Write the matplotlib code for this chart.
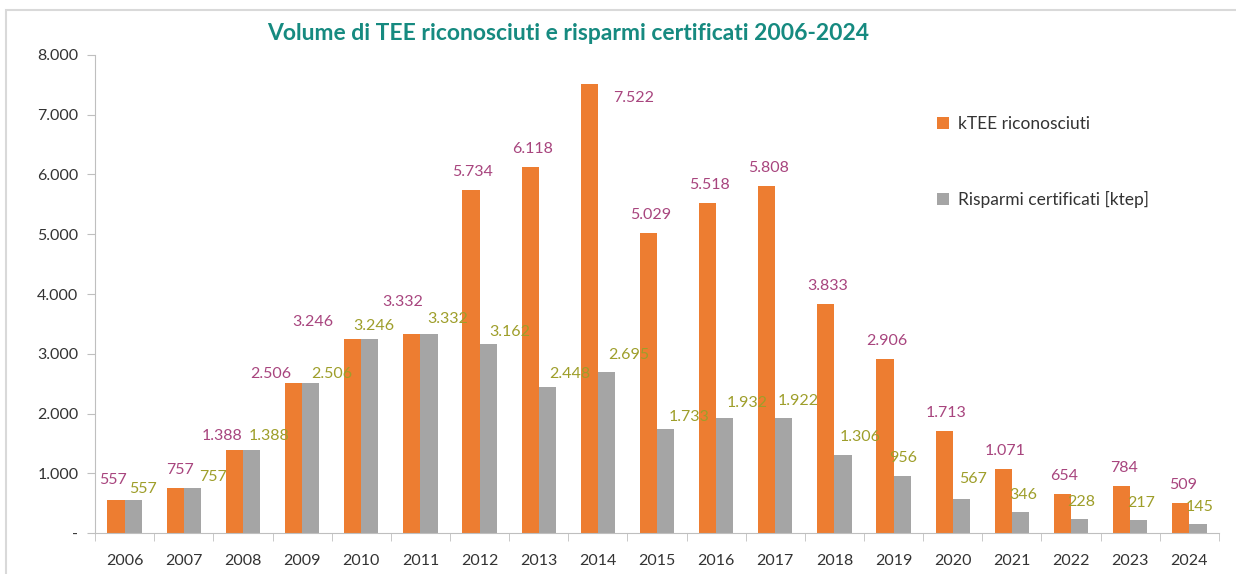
import matplotlib.pyplot as plt
import numpy as np
from matplotlib.patches import Rectangle

anni = [str(a) for a in range(2006, 2025)]
ktee = [557, 757, 1388, 2506, 3246, 3332, 5734, 6118, 7522, 5029, 5518, 5808,
        3833, 2906, 1713, 1071, 654, 784, 509]
risparmi = [557, 757, 1388, 2506, 3246, 3332, 3162, 2448, 2695, 1733, 1932, 1922,
            1306, 956, 567, 346, 228, 217, 145]

def fmt_it(v):
    return f"{v:,}".replace(",", ".")

plt.rcParams['font.family'] = ['Lato', 'DejaVu Sans']
fig = plt.figure(figsize=(12.36, 5.74), dpi=100)
ax = fig.add_axes([0.0769, 0.0714, 0.9093, 0.8328])

x = np.arange(len(anni))
w = 0.29
arancio = '#ED7D31'
grigio = '#A5A5A5'
b1 = ax.bar(x - w/2, ktee, w, color=arancio, label='kTEE riconosciuti')
b2 = ax.bar(x + w/2, risparmi, w, color=grigio, label='Risparmi certificati [ktep]')

# spostamenti delle etichette (pixel) come nel grafico Excel
off_k = {0: (-3, 20), 1: (5, 18), 2: (-12, 14), 3: (-23, 9), 4: (-40, 17),
         5: (-9, 32), 8: (44, -14)}
off_r = {0: (10, 11), 1: (21, 11), 2: (18, 14), 3: (21, 9), 4: (4, 13), 5: (19, 15),
         6: (22, 12), 7: (22, 13), 8: (22, 17), 9: (23, 12), 10: (22, 15), 11: (14, 17),
         12: (17, 18), 13: (1, 18), 14: (12, 20), 15: (3, 17)}
for i in range(len(anni)):
    dx, dy = off_k.get(i, (2, 18))
    ax.annotate(fmt_it(ktee[i]), (x[i] - w/2, ktee[i]), xytext=(dx, dy),
                textcoords='offset pixels', ha='center', va='center',
                fontsize=11.5, color='#A8457E')
    dx, dy = off_r.get(i, (2, 17))
    ax.annotate(fmt_it(risparmi[i]), (x[i] + w/2, risparmi[i]), xytext=(dx, dy),
                textcoords='offset pixels', ha='center', va='center',
                fontsize=11.5, color='#9E9E2A')

ax.set_xlim(-0.5, len(anni) - 0.5)
ax.set_ylim(0, 8000)
ax.set_yticks(range(0, 8001, 1000))
ax.set_yticklabels(['-'] + [fmt_it(v) for v in range(1000, 8001, 1000)])
ax.set_xticks(x)
ax.set_xticklabels(anni)
ax.set_xticks(np.arange(-0.5, len(anni), 1), minor=True)
ax.tick_params(axis='x', which='major', length=0, pad=15, labelsize=11.5, colors='#333333')
ax.tick_params(axis='x', which='minor', length=6, color='#BFBFBF')
ax.tick_params(axis='y', length=6, color='#BFBFBF', pad=6, labelsize=11.5, labelcolor='#333333')
for s in ['top', 'right']:
    ax.spines[s].set_visible(False)
for s in ['left', 'bottom']:
    ax.spines[s].set_color('#BFBFBF')

fig.text(0.46, 0.942, 'Volume di TEE riconosciuti e risparmi certificati 2006-2024',
         ha='center', va='center', fontsize=16.5, fontweight='bold', color='#168A80')

ax.legend(loc='upper left', bbox_to_anchor=(0.735, 0.905), frameon=False,
          fontsize=12.5, handlelength=0.7, handleheight=0.7, handletextpad=0.5,
          labelspacing=3.4, labelcolor='#333333')

fig.patches.append(Rectangle((6/1236, -0.1), 1.2, (574 - 10)/574 + 0.1,
                             transform=fig.transFigure, fill=False,
                             edgecolor='#D9D9D9', linewidth=1.5))

fig.savefig('out.png', dpi=100)
